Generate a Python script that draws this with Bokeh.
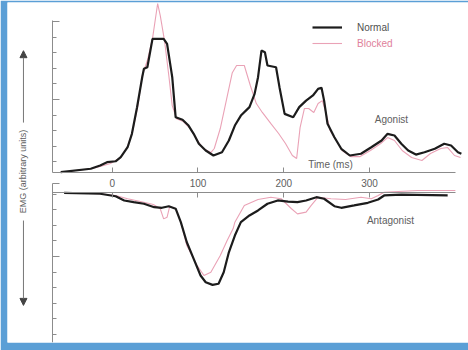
import numpy as np
from bokeh.plotting import figure
from bokeh.models import (Range1d, LinearAxis, FixedTicker, Label, Arrow,
                          NormalHead, Legend, LegendItem)
from bokeh.embed import file_html
from bokeh.resources import INLINE

# ---------------- data ----------------
x_ticks = [0, 100, 200, 300]
x_tick_labels = ["0", "100", "200", "300"]

# Agonist (upper panel), time in ms, EMG in arbitrary units
agon_normal_t = [-60, -25, -14, -6, 4, 10, 18, 23, 29, 35, 37, 41, 47, 60, 64, 70, 74, 82, 89, 95,
                 101, 109, 118, 128, 136, 143, 150, 160, 166, 170, 174, 178, 181, 191, 195, 201, 211,
                 218, 226, 234, 240, 244, 247, 251, 259, 267, 277, 290, 302, 314, 321, 329, 337, 345,
                 354, 364, 376, 387, 395, 403, 407]
agon_normal_v = [0.04, 0.26, 0.47, 0.68, 0.74, 1.0, 1.64, 2.5, 4.2, 6.13, 6.67, 6.77, 8.59, 8.59, 8.27,
                 6.13, 3.56, 3.4, 3.03, 2.5, 1.86, 1.43, 1.11, 1.32, 2.07, 3.03, 3.67, 4.21, 5.06, 6.13,
                 7.84, 7.73, 6.88, 6.77, 5.49, 3.78, 3.56, 4.21, 4.63, 4.96, 5.38, 5.45, 4.63, 3.14,
                 2.28, 1.54, 1.11, 1.22, 1.64, 2.07, 2.5, 2.39, 1.86, 1.43, 1.17, 1.32, 1.54, 1.86,
                 1.75, 1.32, 1.22]

agon_blocked_t = [-60, -25, -14, -2, 10, 18, 24, 30, 35, 41, 47, 51, 53, 56, 61, 66, 70, 75, 83, 91,
                  98, 106, 115, 119, 126, 133, 140, 145, 154, 161, 168, 175, 185, 194, 202, 210, 215,
                  219, 224, 229, 235, 240, 245, 250, 254, 261, 268, 278, 289, 301, 313, 321, 329, 338,
                  349, 361, 371, 383, 391, 399, 406]
agon_blocked_v = [0.04, 0.26, 0.40, 0.6, 0.98, 1.69, 2.71, 4.31, 6.24, 7.2, 8.6, 10.1, 10.85, 10.1,
                  8.48, 6.24, 4.31, 3.47, 3.29, 2.84, 2.2, 1.56, 1.3, 1.56, 2.84, 4.63, 6.42, 6.88,
                  6.88, 5.6, 4.44, 3.87, 3.15, 2.52, 1.88, 1.11, 0.92, 2.9, 4.12, 4.12, 3.87, 4.44,
                  4.63, 3.67, 2.71, 2.07, 1.43, 1.04, 1.04, 1.43, 1.88, 2.26, 2.07, 1.43, 0.98, 0.79,
                  1.24, 1.56, 1.62, 1.11, 0.98]

# Antagonist (lower panel), plotted downwards
antag_normal_t = [-56, -14, 4, 14, 25, 37, 49, 58, 66, 74, 80, 87, 95, 103, 109, 117, 124, 130, 136,
                  143, 150, 160, 170, 181, 193, 205, 216, 226, 238, 247, 259, 267, 282, 298, 310, 317,
                  337, 391]
antag_normal_w = [0.02, 0.08, 0.24, 0.51, 0.62, 0.72, 0.94, 0.98, 0.88, 1.04, 1.9, 3.19, 4.25, 5.32,
                  5.75, 5.92, 5.85, 5.11, 3.83, 2.76, 1.9, 1.47, 1.15, 0.72, 0.51, 0.58, 0.62, 0.51,
                  0.3, 0.4, 0.88, 0.98, 0.83, 0.66, 0.45, 0.19, 0.13, 0.19]

antag_blocked_t = [-56, -14, 4, 18, 33, 48, 56, 60, 64, 67, 74, 80, 87, 99, 107, 115, 126, 134, 141,
                   143, 154, 170, 185, 197, 209, 216, 226, 232, 240, 255, 272, 290, 302, 310, 317,
                   356, 400]
antag_blocked_w = [0.02, 0.08, 0.19, 0.4, 0.58, 0.77, 1.04, 1.69, 1.58, 0.9, 1.04, 1.9, 3.4, 4.68,
                   5.32, 5.11, 4.04, 3.08, 2.31, 1.9, 0.83, 0.45, 0.3, 0.4, 1.04, 1.37, 1.26, 0.83,
                   0.3, 0.4, 0.45, 0.3, 0.4, 0.19, -0.02, -0.13, -0.13]

# tick positions of the unlabelled EMG axes
upper_minor_ticks = [0.7 + k for k in range(10)]
upper_major_ticks = [4.7, 9.7]
lower_minor_ticks = [0.1 + k for k in range(10)]
lower_major_ticks = [-0.6, 4.1]

# ---------------- styling ----------------
FONT = "Liberation Sans"
AXIS_COL = "#8c8c8c"
TEXT_COL = "#606060"
NORMAL_COL = "#1c1c1c"
BLOCKED_COL = "#eaa2b6"
FRAME_BLUE = "#5b9fd6"

X0, X1 = -122.0, 415.3          # whole white area
XA = -69.6                      # position of the EMG axes
p = figure(width=468, height=350, x_range=Range1d(X0, X1), y_range=Range1d(-10.88, 10.92),
           output_backend="svg", toolbar_location=None, x_axis_type=None, y_axis_type=None,
           min_border_left=7, min_border_right=0, min_border_top=2, min_border_bottom=8)
p.outline_line_color = None
p.background_fill_color = "white"
p.border_fill_color = FRAME_BLUE
p.extra_y_ranges = {"lower": Range1d(start=9.615, end=-12.18)}


def style_axis(ax):
    ax.axis_line_color = AXIS_COL
    ax.major_tick_line_color = AXIS_COL
    ax.minor_tick_line_color = AXIS_COL
    ax.axis_line_width = 1


# upper EMG axis
ax_up = LinearAxis(ticker=FixedTicker(ticks=upper_major_ticks, minor_ticks=upper_minor_ticks),
                   bounds=(0, 9.75), fixed_location=XA,
                   major_label_overrides={t: "" for t in upper_major_ticks})
style_axis(ax_up)
ax_up.major_tick_in, ax_up.major_tick_out = 7, 0
ax_up.minor_tick_in, ax_up.minor_tick_out = 4, 0
p.add_layout(ax_up, "left")

# lower EMG axis
ax_lo = LinearAxis(y_range_name="lower",
                   ticker=FixedTicker(ticks=lower_major_ticks, minor_ticks=lower_minor_ticks),
                   bounds=(-0.6, 9.615), fixed_location=XA,
                   major_label_overrides={t: "" for t in lower_major_ticks})
style_axis(ax_lo)
ax_lo.major_tick_in, ax_lo.major_tick_out = 7, 0
ax_lo.minor_tick_in, ax_lo.minor_tick_out = 4, 0
p.add_layout(ax_lo, "left")

# time axis (upper baseline) with labels
ax_t = LinearAxis(ticker=FixedTicker(ticks=x_ticks, minor_ticks=[]), bounds=(XA, 400),
                  fixed_location=0,
                  major_label_overrides={t: s for t, s in zip(x_ticks, x_tick_labels)})
style_axis(ax_t)
ax_t.major_tick_in, ax_t.major_tick_out = 5, 0
ax_t.minor_tick_in, ax_t.minor_tick_out = 0, 0
ax_t.major_label_standoff = 6
ax_t.major_label_text_font = FONT
ax_t.major_label_text_font_size = "10px"
ax_t.major_label_text_color = TEXT_COL
p.add_layout(ax_t, "below")

# time axis (lower baseline), ticks pointing down, no labels
ax_t2 = LinearAxis(ticker=FixedTicker(ticks=x_ticks, minor_ticks=[]), bounds=(XA, 400),
                   fixed_location=-1.263,
                   major_label_overrides={t: "" for t in x_ticks})
style_axis(ax_t2)
ax_t2.major_tick_in, ax_t2.major_tick_out = 0, 5
ax_t2.minor_tick_in, ax_t2.minor_tick_out = 0, 0
p.add_layout(ax_t2, "below")

# curves
r_ab = p.line(agon_blocked_t, agon_blocked_v, line_color=BLOCKED_COL, line_width=1.1)
r_an = p.line(agon_normal_t, agon_normal_v, line_color=NORMAL_COL, line_width=2.2)
p.line(antag_blocked_t, antag_blocked_w, line_color=BLOCKED_COL, line_width=1.1, y_range_name="lower")
p.line(antag_normal_t, antag_normal_w, line_color=NORMAL_COL, line_width=2.2, y_range_name="lower")

# texts
def lab(x, y, text, **kw):
    d = dict(x=x, y=y, text=text, text_align="center", text_baseline="middle",
             text_font=FONT, text_font_size="10px", text_color=TEXT_COL)
    d.update(kw)
    p.add_layout(Label(**d))

lab(254.4, 0.53, "Time (ms)")
lab(325.5, 3.42, "Agonist")
lab(324.4, 1.79, "Antagonist", y_range_name="lower")
lab(-103.4, 0.083, "EMG (arbitrary units)", angle=np.pi / 2, text_font_size="9px")

# arrows along the EMG label
head = dict(size=7, fill_color="#444444", line_color="#444444")
p.add_layout(Arrow(end=NormalHead(**head), x_start=-103.4, y_start=3.22, x_end=-103.4, y_end=7.83,
                   line_color="#777777", line_width=1))
p.add_layout(Arrow(end=NormalHead(**head), x_start=-103.4, y_start=-3.06, x_end=-103.4, y_end=-8.5,
                   line_color="#777777", line_width=1))

# legends (two, so each label has its own colour)
common = dict(glyph_width=30, glyph_height=16, label_height=16, label_standoff=15, padding=0,
              margin=0, spacing=0, border_line_alpha=0, background_fill_alpha=0,
              label_text_font=FONT, label_text_font_size="10px")
p.add_layout(Legend(items=[LegendItem(label="Normal", renderers=[r_an])], location=(305, 307),
                    label_text_color="#505050", **common))
p.add_layout(Legend(items=[LegendItem(label="Blocked", renderers=[r_ab])], location=(305, 291),
                    label_text_color="#e0819b", **common))

open("out.html", "w").write(file_html(p, INLINE))
